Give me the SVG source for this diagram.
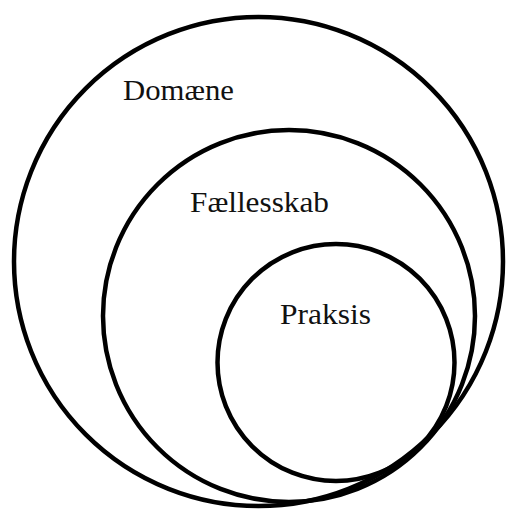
<svg xmlns="http://www.w3.org/2000/svg" width="507" height="511" viewBox="0 0 507 511">
<style>
.ring{fill:none;stroke:#000;stroke-width:4.5}
.lbl{font-family:"Liberation Serif","Times New Roman",serif;font-size:29px;fill:#111}
</style>
<rect width="507" height="511" fill="#fff"/>
<g id="domaene">
<circle class="ring" cx="258.5" cy="261.5" r="244.5"/>
<text class="lbl" x="123" y="100" textLength="111" lengthAdjust="spacingAndGlyphs">Domæne</text>
</g>
<g id="faellesskab">
<circle class="ring" cx="289" cy="316" r="186"/>
<text class="lbl" x="190" y="212" textLength="139" lengthAdjust="spacingAndGlyphs">Fællesskab</text>
</g>
<g id="praksis">
<circle class="ring" cx="336" cy="362.5" r="118.5"/>
<text class="lbl" x="280" y="324" textLength="91" lengthAdjust="spacingAndGlyphs">Praksis</text>
</g>
<g id="connectors"/>
</svg>
